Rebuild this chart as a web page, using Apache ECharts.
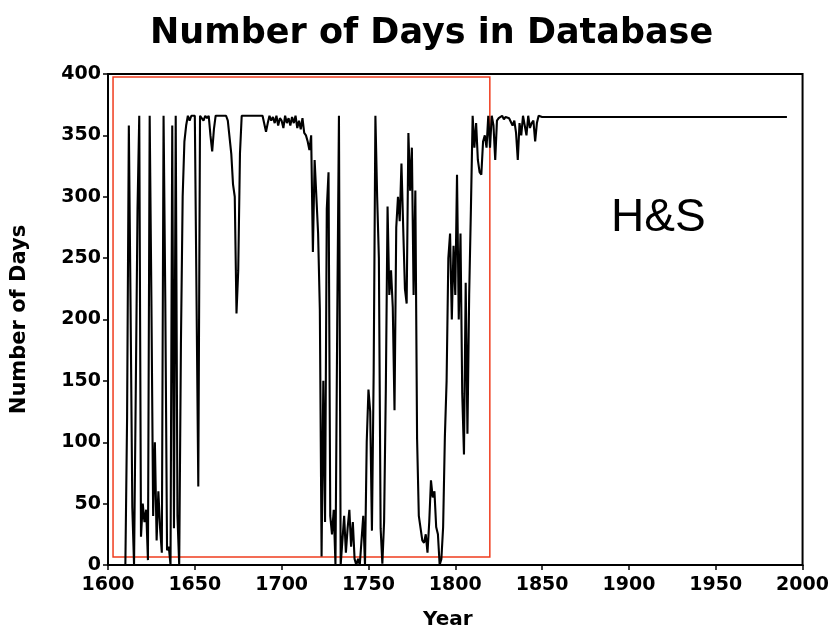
<!DOCTYPE html>
<html>
<head>
<meta charset="utf-8">
<script src="https://cdn.jsdelivr.net/npm/echarts@6/dist/echarts.min.js"></script>
<style>
html,body{margin:0;padding:0;background:#fff;}
#chart{width:832px;height:636px;}
</style>
</head>
<body>
<div id="chart"></div>
<script>
// ---- data ----
const titleText = 'Number of Days in Database';
const xAxisName = 'Year';
const yAxisName = 'Number of Days';
const annotation = 'H&S';
const firstYear = 1610;
// number of days per year, 1610 .. 1991 (one value per year)
const daysInDatabase = [
  0, 121, 358, 210, 47, 0, 143, 290, 366, 23,          // 1610
  50, 35, 45, 4, 366, 215, 40, 100, 20, 60,            // 1620
  30, 10, 366, 215, 12, 15, 0, 358, 30, 366,           // 1630
  40, 0, 180, 300, 345, 358, 366, 362, 366, 365,       // 1640
  366, 215, 64, 366, 366, 362, 366, 364, 366, 350,     // 1650
  337, 355, 366, 365, 366, 365, 366, 365, 366, 362,    // 1660
  362, 335, 310, 300, 205, 240, 335, 366, 365, 366,    // 1670
  365, 366, 365, 366, 365, 366, 365, 366, 365, 366,    // 1680
  365, 353, 360, 366, 362, 365, 360, 366, 358, 364,    // 1690
  362, 356, 366, 360, 364, 358, 365, 360, 366, 356,    // 1700
  362, 355, 364, 352, 350, 345, 338, 350, 255, 330,    // 1710
  300, 270, 208, 7, 150, 35, 290, 320, 40, 25,         // 1720
  45, 0, 195, 366, 0, 20, 40, 10, 30, 45,              // 1730
  15, 35, 5, 0, 5, 0, 0, 40, 0, 100,                   // 1740
  143, 125, 28, 157, 366, 300, 250, 30, 1, 35,         // 1750
  143, 292, 220, 240, 210, 126, 275, 300, 280, 327,    // 1760
  275, 225, 213, 352, 305, 340, 220, 305, 103, 40,     // 1770
  30, 20, 18, 25, 10, 35, 69, 55, 60, 31,              // 1780
  25, 0, 5, 31, 104, 150, 250, 270, 200, 260,          // 1790
  220, 318, 200, 270, 140, 90, 230, 107, 220, 290,     // 1800
  366, 340, 360, 330, 320, 318, 345, 350, 340, 366,    // 1810
  340, 366, 358, 330, 362, 364, 365, 366, 363, 365,    // 1820
  366, 364, 365, 358, 362, 352, 330, 360, 350, 366,    // 1830
  358, 350, 366, 356, 360, 362, 345, 360, 366, 365,    // 1840
  365, 365, 365, 365, 365, 365, 365, 365, 365, 365,    // 1850
  365, 365, 365, 365, 365, 365, 365, 365, 365, 365,    // 1860
  365, 365, 365, 365, 365, 365, 365, 365, 365, 365,    // 1870
  365, 365, 365, 365, 365, 365, 365, 365, 365, 365,    // 1880
  365, 365, 365, 365, 365, 365, 365, 365, 365, 365,    // 1890
  365, 365, 365, 365, 365, 365, 365, 365, 365, 365,    // 1900
  365, 365, 365, 365, 365, 365, 365, 365, 365, 365,    // 1910
  365, 365, 365, 365, 365, 365, 365, 365, 365, 365,    // 1920
  365, 365, 365, 365, 365, 365, 365, 365, 365, 365,    // 1930
  365, 365, 365, 365, 365, 365, 365, 365, 365, 365,    // 1940
  365, 365, 365, 365, 365, 365, 365, 365, 365, 365,    // 1950
  365, 365, 365, 365, 365, 365, 365, 365, 365, 365,    // 1960
  365, 365, 365, 365, 365, 365, 365, 365, 365, 365,    // 1970
  365, 365, 365, 365, 365, 365, 365, 365, 365, 365,    // 1980
  365, 365                                              // 1990
];
// axis ranges / ticks
const xMin = 1600, xMax = 2000, xStep = 50;
const yMin = 0, yMax = 400, yStep = 50;
// highlighted region (red box) in data units
const boxYears = [1602.9, 1819.9];
const boxDays = [6.5, 397.6];

// ---- chart ----
const seriesData = daysInDatabase.map((v, i) => [firstYear + i, v]);
const chart = echarts.init(document.getElementById('chart'), null, {renderer: 'canvas'});
const labelFont = {color: '#000', fontFamily: 'DejaVu Sans', fontWeight: 'bold', fontSize: 19};
chart.setOption({
  animation: false,
  backgroundColor: '#fff',
  title: {
    text: titleText,
    left: 145, top: 11,
    textStyle: {color: '#000', fontFamily: 'DejaVu Sans', fontWeight: 'bold', fontSize: 35}
  },
  grid: {
    left: 108, right: 29, top: 74, bottom: 71,
    show: true, borderColor: '#000', borderWidth: 2, backgroundColor: 'transparent'
  },
  xAxis: {
    type: 'value', min: xMin, max: xMax, interval: xStep,
    name: xAxisName, nameLocation: 'middle', nameGap: 45,
    nameTextStyle: {color: '#000', fontFamily: 'DejaVu Sans', fontWeight: 'bold', fontSize: 20, padding: [0, 15, 0, 0]},
    axisLine: {show: true, lineStyle: {color: '#000', width: 2}},
    axisTick: {show: true, inside: false, length: 5, lineStyle: {color: '#000', width: 1.5}},
    axisLabel: Object.assign({margin: 11, formatter: v => String(v)}, labelFont),
    splitLine: {show: false}
  },
  yAxis: {
    type: 'value', min: yMin, max: yMax, interval: yStep,
    name: yAxisName, nameLocation: 'middle', nameGap: 78, nameRotate: 90,
    nameTextStyle: {color: '#000', fontFamily: 'DejaVu Sans', fontWeight: 'bold', fontSize: 21},
    axisLine: {show: true, lineStyle: {color: '#000', width: 2}},
    axisTick: {show: true, inside: false, length: 5, lineStyle: {color: '#000', width: 1.5}},
    axisLabel: Object.assign({margin: 7, formatter: v => String(v)}, labelFont),
    splitLine: {show: false}
  },
  series: [{
    type: 'line',
    data: seriesData,
    showSymbol: false,
    lineStyle: {color: '#000', width: 2.1},
    markArea: {
      silent: true,
      itemStyle: {color: 'rgba(0,0,0,0)', borderColor: '#f03c1e', borderWidth: 1.5},
      data: [[{coord: [boxYears[0], boxDays[1]]}, {coord: [boxYears[1], boxDays[0]]}]]
    }
  }],
  graphic: [{
    type: 'text', left: 611, top: 195,
    style: {text: annotation, fill: '#000', font: '46px "Liberation Sans", Arial, sans-serif'}
  }]
});
</script>
</body>
</html>
